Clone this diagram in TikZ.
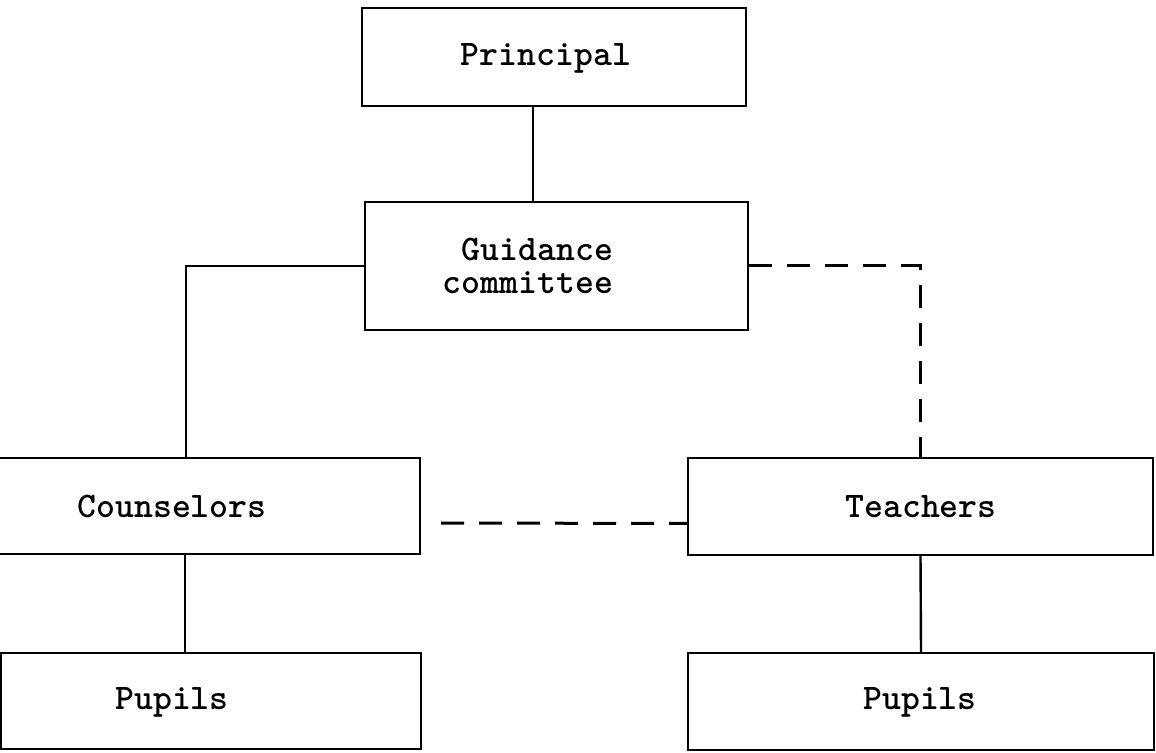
\documentclass[tikz,border=0pt]{standalone}
\usepackage{fontspec}
\begin{document}
\begin{tikzpicture}[x=0.5pt,y=-0.5pt,
  box/.style={draw, line width=1.2pt, inner sep=0pt},
  lbl/.style={font=\ttfamily\bfseries\fontsize{18}{16.5}\selectfont, inner sep=0pt},
  conn/.style={line width=1.2pt},
  dconn/.style={line width=1.5pt, dash pattern=on 11.5pt off 7.5pt}]
\useasboundingbox (0,0) rectangle (1156,753);
% boxes
\node[box, minimum width=192pt, minimum height=49pt] (P) at (554,57) {};
\node[box, minimum width=191.5pt, minimum height=64pt] (G) at (556.5,266) {};
\node[box, minimum width=211pt, minimum height=48pt] (C) at (209,506) {};
\node[box, minimum width=210pt, minimum height=48pt] (PL) at (211,701) {};
\node[box, minimum width=232.5pt, minimum height=48.5pt] (T) at (920.5,506.5) {};
\node[box, minimum width=233pt, minimum height=48.5pt] (PR) at (921,701.5) {};
% labels
\node[lbl] (Pt) at (546,58) {Principal};
\node[lbl, align=right] (Gt) at (528,266) {Guidance\\committee};
\node[lbl] (Ct) at (172,507) {Counselors};
\node[lbl] (PLt) at (172,702) {Pupils};
\node[lbl] (Tt) at (921,507) {Teachers};
\node[lbl] (PRt) at (920,702) {Pupils};
% connectors
\draw[conn] ([xshift=-10.5pt]P.south) -- ([xshift=-11.75pt]G.north);
\draw[conn] (G.west) -| ([xshift=-11.5pt]C.north);
\draw[conn] ([xshift=-12pt]C.south) -- ([xshift=-13pt]PL.north);
\draw[conn] (T.south) -- (PR.north);
\draw[dconn] (G.east) -| (T.north);
\draw[dconn] ([xshift=10pt,yshift=-8.5pt]C.east) -- ([yshift=-8.5pt]T.west);
\end{tikzpicture}
\end{document}
